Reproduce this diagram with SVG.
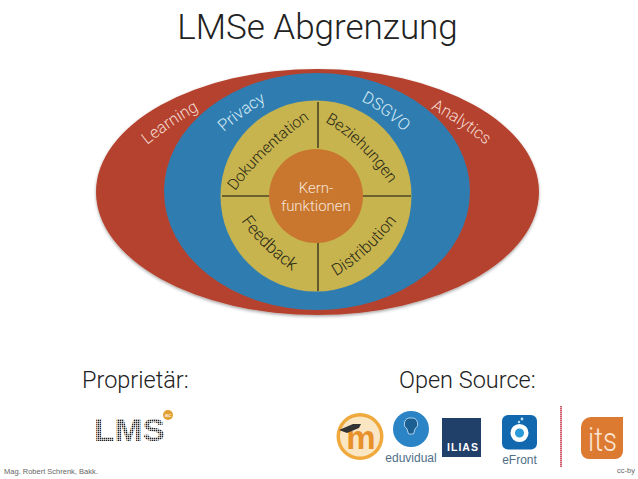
<svg xmlns="http://www.w3.org/2000/svg" width="638" height="479" viewBox="0 0 638 479">
<style>
text{font-family:"Roboto","Liberation Sans",Arial,sans-serif;font-weight:300}
.h{font-size:23.500px;fill:#222}
.w{font-size:16.500px;fill:#f3d9cf}
.u{font-size:16.500px;fill:#d6ebf5}
.b{font-size:16.500px;fill:#2a2a18}
.f{font-size:7.500px;fill:#666;font-family:"Liberation Sans",sans-serif;font-weight:400}
.l{font-size:12px;fill:#4f6f88;font-family:"Liberation Sans",sans-serif;font-weight:400}
.div{stroke:#111;stroke-width:1.100;fill:none}
</style>
<defs>
<filter id="s" x="-5%" y="-5%" width="110%" height="112%"><feDropShadow dx="0" dy="1.500" stdDeviation="1.500" flood-color="#000" flood-opacity=".35"/></filter>
<pattern id="dots" width="2" height="2" patternUnits="userSpaceOnUse"><rect width="1.400" height="1.400" fill="#222"/></pattern>
<path id="pL" d="M147,145 Q177,121 207,106"/>
<path id="pP" d="M224,132 Q244,114 272,98"/>
<path id="pDS" d="M361,101 Q386,113 412,140"/>
<path id="pA" d="M431,109 Q460,123 498,155"/>
<path id="pDo" d="M235,191 Q268,146 320,112"/>
<path id="pB" d="M325,122 Q364,144 397,195"/>
<path id="pF" d="M241,221 Q262,251 302,278"/>
<path id="pDi" d="M336,276 Q372,256 405,210"/>
</defs>
<text id="title" x="317.500" y="39" font-size="35" text-anchor="middle" fill="#222">LMSe Abgrenzung</text>
<g id="outer"><ellipse cx="317.500" cy="192" rx="221.500" ry="123" fill="#b5432f" filter="url(#s)"/>
<text class="w"><textPath href="#pL">Learning</textPath></text>
<text class="w"><textPath href="#pA">Analytics</textPath></text></g>
<g id="middle"><ellipse cx="317" cy="191.500" rx="153" ry="118.500" fill="#2f7db0"/>
<text class="u"><textPath href="#pP">Privacy</textPath></text>
<text class="u"><textPath href="#pDS">DSGVO</textPath></text></g>
<g id="ring"><circle cx="316" cy="196" r="95.500" fill="#c8b44e"/>
<text class="b" style="font-size:15.500px"><textPath href="#pDo">Dokumentation</textPath></text>
<text class="b" style="font-size:16px"><textPath href="#pB">Beziehungen</textPath></text>
<text class="b" style="font-size:17px"><textPath href="#pF">Feedback</textPath></text>
<text class="b"><textPath href="#pDi">Distribution</textPath></text></g>
<g id="connectors"><path class="div" d="M318,102V148M318,243V291M222,196H269M363,196H411"/></g>
<g id="core"><circle cx="316" cy="196" r="47" fill="#c9772f"/>
<text x="316" y="193" font-size="15" text-anchor="middle" fill="#f6e4d8">Kern-</text>
<text x="316" y="211" font-size="15" text-anchor="middle" fill="#f6e4d8">funktionen</text></g>
<text class="h" x="82" y="388">Proprietär:</text>
<text class="h" x="399" y="388">Open Source:</text>
<g id="lms"><text x="94" y="441" font-size="31" textLength="71" lengthAdjust="spacingAndGlyphs" style="font-family:'Liberation Sans',sans-serif;font-weight:700" fill="url(#dots)">LMS</text>
<circle cx="168" cy="415" r="5" fill="#e2a032"/><text x="168" y="417" font-size="6" text-anchor="middle" fill="#fff" style="font-family:'Liberation Sans',sans-serif">ac</text></g>
<g id="moodle"><circle cx="360" cy="436.500" r="23.500" fill="#f0a93c"/><circle cx="360" cy="436.500" r="20" fill="#fbe6c4"/>
<text x="361" y="449" font-size="33" text-anchor="middle" fill="#e8912a" style="font-family:'Liberation Sans',sans-serif;font-weight:700">m</text>
<path d="M339,430L353,424L361,424L359,428L347,433Z" fill="#333"/></g>
<g id="eduvidual"><circle cx="411" cy="429" r="18" fill="#2a84c6"/><path d="M411,418a6,6 0 0 1 4,11l-1.500,5h-5l-1.500,-5a6,6 0 0 1 4,-11Z" fill="#1c5f92" stroke="#cfe6f5" stroke-width=".8"/>
<text class="l" x="411" y="462" text-anchor="middle">eduvidual</text></g>
<g id="ilias"><rect x="442" y="418" width="39" height="39" fill="#20406a"/><text x="447" y="451" font-size="10.500" textLength="31" fill="#fff" style="font-family:'Liberation Sans',sans-serif;font-weight:700">ILIAS</text></g>
<g id="efront"><rect x="502" y="415" width="35" height="34.500" rx="6" fill="#1268ae"/><circle cx="519.500" cy="433" r="6.800" fill="#2a9ad8" stroke="#fff" stroke-width="4.500"/><circle cx="522" cy="419" r="1.400" fill="#bfe0f5"/><circle cx="519" cy="422" r="1.200" fill="#bfe0f5"/>
<text class="l" x="519.500" y="464" text-anchor="middle">eFront</text></g>
<path id="sep" d="M561,406V467" stroke="#cf5a68" stroke-width="2" stroke-dasharray="1.500 .5"/>
<g id="its"><path d="M591,417H623V451a8,8 0 0 1 -8,8H589a8,8 0 0 1 -8,-8V427a10,10 0 0 1 10,-10Z" fill="#dd7a32"/><text x="588" y="451" font-size="33" textLength="29" lengthAdjust="spacingAndGlyphs" fill="#fbe6d4">its</text></g>
<text class="f" x="4" y="474">Mag. Robert Schrenk, Bakk.</text>
<text class="f" x="617" y="473">cc-by</text>
</svg>
